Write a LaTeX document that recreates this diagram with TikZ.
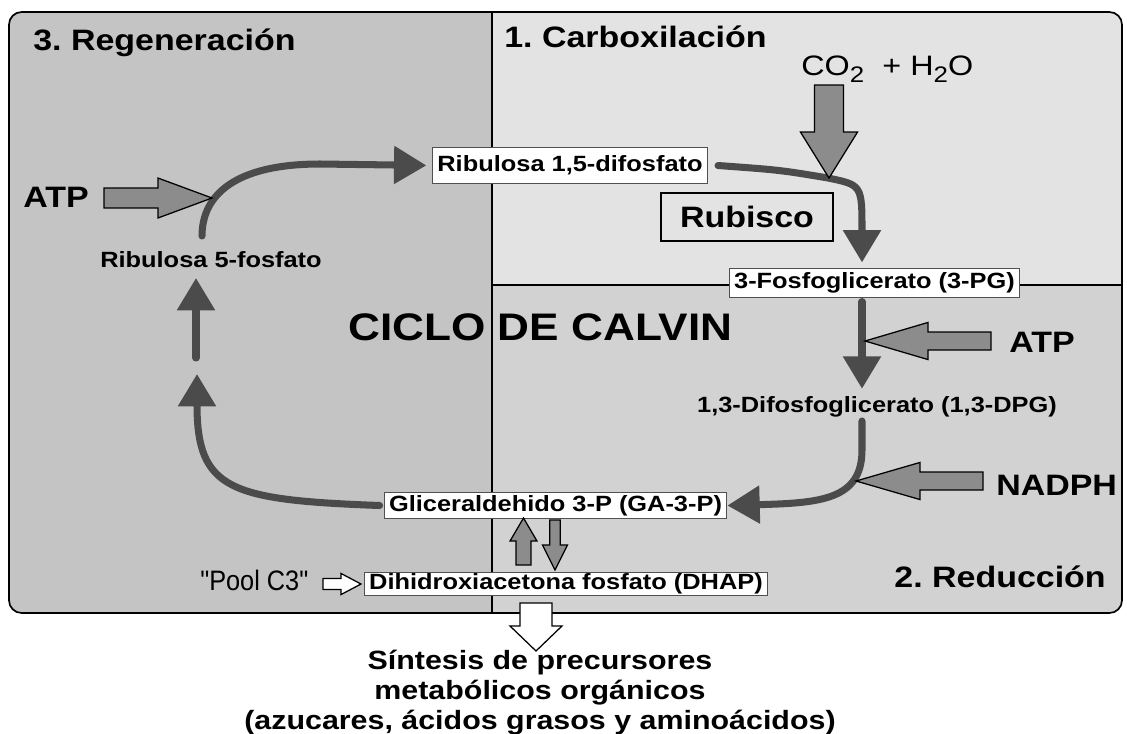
\documentclass[tikz,border=0pt]{standalone}
\usepackage{fontspec}
\setmainfont{Liberation Sans}[FakeStretch=1.15]
\newfontfamily\poolfont{Liberation Sans}[FakeStretch=0.9]
\usepackage{tikz}
\usetikzlibrary{arrows.meta, calc}

\definecolor{regfill}{HTML}{C4C4C4}
\definecolor{carbfill}{HTML}{E3E3E3}
\definecolor{redfill}{HTML}{D2D2D2}
\definecolor{fatgray}{HTML}{8C8C8C}
\definecolor{cycgray}{HTML}{4B4B4B}
\definecolor{boxline}{HTML}{505050}

\newcommand{\subd}[1]{\raisebox{-5pt}{\fontsize{16}{16}\selectfont #1}}

\begin{document}
\frenchspacing
\begin{tikzpicture}[x=0.025cm, y=-0.025cm,
  title/.style={font=\fontsize{21}{25}\selectfont\bfseries, inner sep=0pt},
  metab/.style={font=\fontsize{15.7}{18}\selectfont\bfseries, inner sep=0pt},
  metabox/.style={metab, draw=boxline, line width=0.7pt, fill=white, inner xsep=3.5pt},
  cyc/.style={draw=cycgray, line width=5pt, line cap=round, -{Triangle[length=23pt, width=26pt]}},
  fat/.style n args={3}{draw=black, line width=0.9pt, fill=fatgray, to path={
      ($(\tikztostart)!#1!90:(\tikztotarget)$)
      -- ($(\tikztotarget)!#3!(\tikztostart)!#1!90:(\tikztotarget)$)
      -- ($(\tikztotarget)!#3!(\tikztostart)!#2!90:(\tikztotarget)$)
      -- (\tikztotarget)
      -- ($(\tikztotarget)!#3!(\tikztostart)!#2!-90:(\tikztotarget)$)
      -- ($(\tikztotarget)!#3!(\tikztostart)!#1!-90:(\tikztotarget)$)
      -- ($(\tikztostart)!#1!-90:(\tikztotarget)$)
      -- cycle}},
  hollow/.style n args={3}{fat={#1}{#2}{#3}, fill=white}]
\useasboundingbox (0,0) rectangle (1127,733);
\fill[white] (0,0) rectangle (1127,733);

% the three phases
\begin{scope}
\clip[rounded corners=9pt] (9,12) rectangle (1122,613);
\fill[regfill] (9,12) rectangle (492,613);
\fill[carbfill] (492,12) rectangle (1122,285);
\fill[redfill] (492,285) rectangle (1122,613);
\end{scope}
\draw[line width=1.2pt, rounded corners=9pt] (9,12) rectangle (1122,613);
\draw[line width=1.2pt] (492,12) -- (492,613);
\draw[line width=1.2pt] (492,285) -- (1122,285);

\node[title, anchor=base west] (regt) at (33,50) {3. Regeneración};
\node[title, anchor=base west] (carbt) at (504,47) {1. Carboxilación};
\node[title, anchor=base east] (redt) at (1106,587) {2. Reducción};
\node[font=\fontsize{27.3}{30}\selectfont\bfseries, inner sep=0pt, anchor=base west] (ciclo) at (348,340) {CICLO DE CALVIN};

% metabolites
\node[metabox, minimum height=25pt] (rub15) at (570,165.5) {Ribulosa 1,5-difosfato};
\node[metabox, minimum height=20pt] (pg3) at (874.5,283) {3-Fosfoglicerato (3-PG)};
\node[metab, anchor=base] (dpg) at (877,412) {1,3-Difosfoglicerato (1,3-DPG)};
\node[metabox, minimum height=19pt] (glic) at (555.5,505.5) {Gliceraldehido 3-P (GA-3-P)};
\node[metabox, minimum height=17pt] (dhap) at (566,584) {Dihidroxiacetona fosfato (DHAP)};
\node[metab, anchor=base] (r5) at (211,267) {Ribulosa 5-fosfato};
\node[title, draw=black, line width=1.2pt, minimum width=122pt, minimum height=34pt] (rubisco) at (747,217) {Rubisco};

% inputs
\node[font=\fontsize{20}{24}\selectfont, inner sep=0pt, anchor=base west] (co2) at (801,75) {CO\subd{2}\hspace{13pt}+ H\subd{2}O};
\node[title, anchor=base west] (atpr) at (1009,352) {ATP};
\node[title, anchor=base west] (nadph) at (996,495) {NADPH};
\node[title, anchor=base west] (atpl) at (23,207) {ATP};
\node[font=\poolfont\fontsize{20}{24}\selectfont, inner sep=0pt, anchor=base west] (pool) at (200,590) {"Pool C3"};
\node[font=\fontsize{18.8}{21.3}\selectfont\bfseries, align=center, inner sep=0pt, anchor=base] (sintesis) at (540,729)
  {Síntesis de precursores\\ metabólicos orgánicos\\ (azucares, ácidos grasos y aminoácidos)};

\coordinate (colx) at (862,0);
\coordinate (r5up) at (202,236);
\coordinate (midlow) at (196,358);
\coordinate (midtop) at (196,278);

% cycle
\draw[cyc, shorten >=4pt] (r5up) .. controls (202,195) and (235,164) .. (320,164) -- (rub15.west);
\draw[cyc] (midlow) -- (midtop);
\draw[cyc] ($(glic.west)+(-4,0)$) .. controls (230,500) and (197,490) .. (197,374);
\draw[cyc] ($(rub15.east)+(10,0)$) .. controls (780,170) .. (828,178) .. controls (862,185) .. ($(pg3.north -| colx)+(0,-6)$);
\draw[cyc] ($(pg3.south -| colx)+(0,4)$) -- ($(dpg.north -| colx)+(0,-7)$);
\draw[cyc] ($(dpg.south -| colx)+(0,4)$) -- (862,450) .. controls (862,500) and (820,503) .. (glic.east);

% block arrows
\coordinate (co2tail) at (829,85);
\coordinate (co2tip) at (829,178);
\coordinate (atprtail) at (991,341);
\coordinate (atprtip) at (865,341);
\coordinate (nadphtail) at (983,481);
\coordinate (nadphtip) at (856,481);
\coordinate (atpltail) at (104,198);
\coordinate (atpltip) at (212,198);
\coordinate (uptail) at (523.5,565);
\coordinate (uptip) at (523.5,518);
\coordinate (downtail) at (555,520);
\coordinate (downtip) at (555,570);
\coordinate (pooltail) at (323,584);
\coordinate (pooltip) at (361,584);
\coordinate (outtail) at (536,603);
\coordinate (outtip) at (536,651);

\draw[fat={10.3pt}{20.3pt}{32.7pt}] (co2tail) to (co2tip);
\draw[fat={6.4pt}{13.2pt}{44.8pt}] (atprtail) to (atprtip);
\draw[fat={6.4pt}{13.2pt}{45.5pt}] (nadphtail) to (nadphtip);
\draw[fat={7.1pt}{14.2pt}{38.4pt}] (atpltail) to (atpltip);
\draw[fat={5.3pt}{9.6pt}{16.4pt}] (uptail) to (uptip);
\draw[fat={3.8pt}{8.9pt}{17.8pt}] (downtail) to (downtip);
\draw[hollow={3.9pt}{7.5pt}{14.2pt}] (pooltail) to (pooltip);
\draw[hollow={11.4pt}{18.5pt}{17.8pt}] (outtail) to (outtip);
\end{tikzpicture}
\end{document}
